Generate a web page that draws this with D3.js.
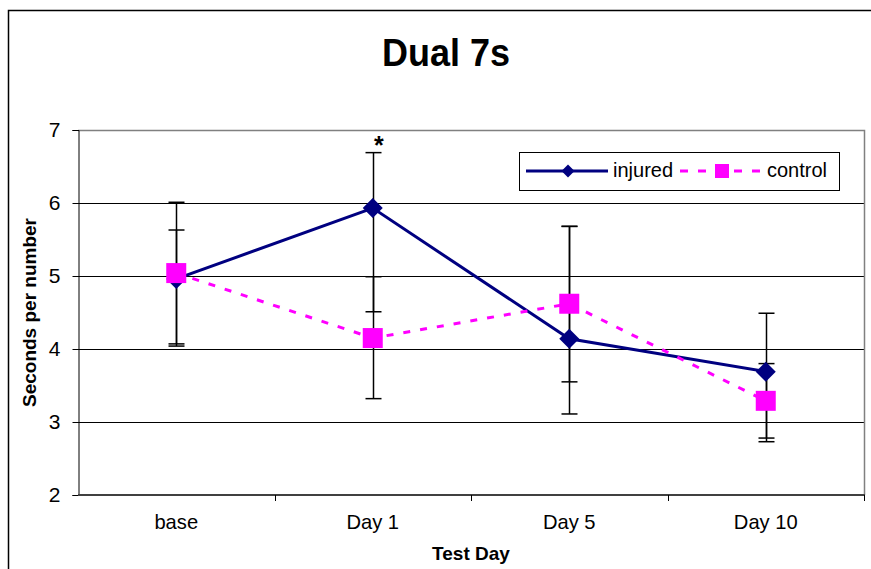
<!DOCTYPE html>
<html>
<head>
<meta charset="utf-8">
<script src="https://cdn.jsdelivr.net/npm/d3@7"></script>
<style>
  body { margin: 0; background: #fff; }
  svg { font-family: "Liberation Sans", Arial, sans-serif; display: block; }
</style>
</head>
<body>
<svg id="chart" width="871" height="569"></svg>
<script>
// データ
const days = ["base", "Day 1", "Day 5", "Day 10"];
const yTicks = [2, 3, 4, 5, 6, 7];
const injured = [4.96, 5.93, 4.14, 3.69];
const control = [5.04, 4.15, 4.62, 3.29];
// エラーバーの上端・下端
const injuredHi = [5.63, 6.69, 5.68, 4.49];
const injuredLo = [4.04, 4.51, 3.11, 2.73];
const controlHi = [6.01, 4.99, 5.68, 3.80];
const controlLo = [4.07, 3.32, 3.55, 2.78];

const svg = d3.select("#chart");
const margin = { top: 130, right: 7, bottom: 74, left: 78 };
const width = +svg.attr("width"), height = +svg.attr("height");

// 外枠
svg.append("rect")
    .attr("x", 8.5).attr("y", 10.5)
    .attr("width", 900).attr("height", 600)
    .attr("fill", "none").attr("stroke", "#000").attr("stroke-width", 1.5);

// タイトル
svg.append("text")
    .attr("transform", "translate(446,66) scale(1,1.06)")
    .attr("text-anchor", "middle")
    .style("font-size", "36px").style("font-weight", "bold")
    .text("Dual 7s");

const x = d3.scaleBand().domain(days).range([margin.left, width - margin.right]);
const y = d3.scaleLinear().domain([2, 7]).range([height - margin.bottom, margin.top]);
const cx = d => x(d) + x.bandwidth() / 2;

// グリッド線
svg.append("g").selectAll("line")
    .data(yTicks.filter(t => t > 2 && t < 7))
    .join("line")
    .attr("x1", margin.left).attr("x2", width - margin.right)
    .attr("y1", d => Math.round(y(d)) + 0.5).attr("y2", d => Math.round(y(d)) + 0.5)
    .attr("stroke", "#000").attr("stroke-width", 1);

// 上と右の枠（灰色）
svg.append("path")
    .attr("d", `M${margin.left},${y(7) + 0.5}H${width - margin.right + 0.5}V${y(2)}`)
    .attr("fill", "none").attr("stroke", "#808080").attr("stroke-width", 1.5);

// Y軸
const yAxis = svg.append("g")
    .attr("transform", `translate(${margin.left + 0.5},0)`)
    .call(d3.axisLeft(y).tickValues(yTicks).tickFormat(d3.format("d")).tickSize(6).tickPadding(12));
yAxis.select(".domain").attr("stroke", "#000");
yAxis.selectAll(".tick line").attr("stroke", "#000");
yAxis.selectAll(".tick text").style("font-size", "21px").style("font-family", "Liberation Sans, Arial, sans-serif").attr("fill", "#000");

// X軸
const xAxis = svg.append("g")
    .attr("transform", `translate(0,${y(2)})`)
    .call(d3.axisBottom(x).tickSize(0).tickPadding(19));
xAxis.select(".domain").remove();
xAxis.selectAll(".tick text")
    .style("font-size", "21px").style("font-family", "Liberation Sans, Arial, sans-serif")
    .attr("transform", "scale(0.96,1)")
    .attr("fill", "#000");
svg.append("line")
    .attr("x1", margin.left).attr("x2", width - margin.right + 1)
    .attr("y1", y(2)).attr("y2", y(2))
    .attr("stroke", "#404040").attr("stroke-width", 2);
// 区切り目盛り
svg.append("g").selectAll("line")
    .data(days.slice(1).map(d => x(d)).concat([x.range()[1]]))
    .join("line")
    .attr("x1", d => Math.round(d) + 0.5).attr("x2", d => Math.round(d) + 0.5)
    .attr("y1", y(2)).attr("y2", y(2) + 6)
    .attr("stroke", "#000");

// 軸ラベル
svg.append("text")
    .attr("x", (margin.left + width - margin.right) / 2).attr("y", 560)
    .attr("text-anchor", "middle")
    .style("font-size", "19px").style("font-weight", "bold")
    .text("Test Day");
svg.append("text")
    .attr("transform", `translate(36,${(y(2) + y(7)) / 2}) rotate(-90)`)
    .attr("text-anchor", "middle")
    .style("font-size", "19px").style("font-weight", "bold")
    .text("Seconds per number");

// エラーバー
function errorBars(hi, lo) {
    const g = svg.append("g").attr("stroke", "#000").attr("stroke-width", 1.5);
    days.forEach((d, i) => {
        const px = Math.round(cx(d)) + 0.5;
        g.append("line").attr("x1", px).attr("x2", px).attr("y1", y(hi[i])).attr("y2", y(lo[i]));
        [hi[i], lo[i]].forEach(v => {
            g.append("line").attr("x1", px - 8).attr("x2", px + 8).attr("y1", y(v)).attr("y2", y(v));
        });
    });
}
errorBars(injuredHi, injuredLo);
errorBars(controlHi, controlLo);

// 折れ線
const line = d3.line().x((v, i) => cx(days[i])).y(v => y(v));
svg.append("path").datum(injured)
    .attr("fill", "none").attr("stroke", "#000080").attr("stroke-width", 3)
    .attr("d", line);
svg.append("path").datum(control)
    .attr("fill", "none").attr("stroke", "#FF00FF").attr("stroke-width", 3)
    .attr("stroke-dasharray", "7,10")
    .attr("d", line);

// マーカー
const diamond = r => `M0,${-r}L${r},0L0,${r}L${-r},0Z`;
svg.append("g").selectAll("path")
    .data(injured).join("path")
    .attr("transform", (v, i) => `translate(${cx(days[i])},${y(v)})`)
    .attr("d", diamond(10)).attr("fill", "#000080");
svg.append("g").selectAll("rect")
    .data(control).join("rect")
    .attr("x", (v, i) => cx(days[i]) - 10).attr("y", v => y(v) - 10)
    .attr("width", 20).attr("height", 20).attr("fill", "#FF00FF");

// 有意差マーク
svg.append("text")
    .attr("x", cx("Day 1") + 6).attr("y", y(injuredHi[1]) + 1)
    .attr("text-anchor", "middle")
    .style("font-size", "25px").style("font-weight", "bold")
    .text("*");

// 凡例
const lg = svg.append("g").attr("transform", "translate(519,152)");
lg.append("rect").attr("x", 0.5).attr("y", 0.5).attr("width", 320).attr("height", 38)
    .attr("fill", "#fff").attr("stroke", "#000").attr("stroke-width", 1);
lg.append("line").attr("x1", 7).attr("x2", 89).attr("y1", 19).attr("y2", 19)
    .attr("stroke", "#000080").attr("stroke-width", 3);
lg.append("path").attr("transform", "translate(49,19)").attr("d", diamond(6.5)).attr("fill", "#000080");
lg.append("text").attr("x", 94).attr("y", 25).style("font-size", "20px").text("injured");
lg.append("line").attr("x1", 161).attr("x2", 246).attr("y1", 19).attr("y2", 19)
    .attr("stroke", "#FF00FF").attr("stroke-width", 3).attr("stroke-dasharray", "8,10");
lg.append("rect").attr("x", 196).attr("y", 12).attr("width", 14).attr("height", 14).attr("fill", "#FF00FF");
lg.append("text").attr("x", 248).attr("y", 25).style("font-size", "20px").text("control");
</script>
</body>
</html>
